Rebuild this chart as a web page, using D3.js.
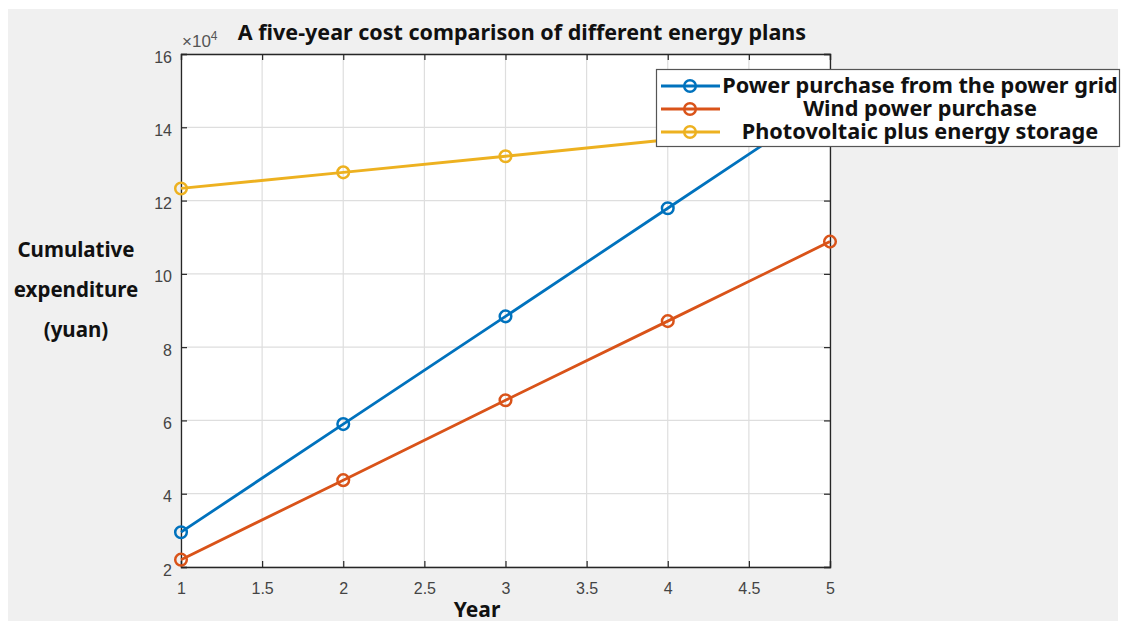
<!DOCTYPE html>
<html><head><meta charset="utf-8">
<script src="https://cdn.jsdelivr.net/npm/d3@7"></script>
<style>
html,body{margin:0;padding:0;background:#fff;}
svg{display:block;}
</style></head>
<body>
<svg id="chart" width="1122" height="623"></svg>
<script>
const years = [1, 2, 3, 4, 5];
const seriesNames = ["Power purchase from the power grid", "Wind power purchase", "Photovoltaic plus energy storage"];
const gridValues = [2.95, 5.9, 8.84, 11.79, 14.74];
const windValues = [2.2, 4.37, 6.55, 8.71, 10.88];
const pvValues = [12.33, 12.77, 13.21, 13.66, 14.1];
const xTicks = [1, 1.5, 2, 2.5, 3, 3.5, 4, 4.5, 5];
const yTicks = [2, 4, 6, 8, 10, 12, 14, 16];
const colors = ["#0072BD", "#D95319", "#EDB120"];
const titleText = "A five-year cost comparison of different energy plans";
const xLabel = "Year";
const yLabelLines = ["Cumulative", "expenditure", "(yuan)"];

const svg = d3.select("#chart");
svg.append("rect").attr("x", 8).attr("y", 9).attr("width", 1110).attr("height", 612).attr("fill", "#f0f0f0");

const L = 181, R = 830, T = 54, B = 567;
const x = d3.scaleLinear().domain([1, 5]).range([L, R]);
const y = d3.scaleLinear().domain([2, 16]).range([B, T]);

svg.append("rect").attr("x", L).attr("y", T).attr("width", R - L).attr("height", B - T).attr("fill", "#fff");

// grid
const g = svg.append("g");
g.selectAll(".vx").data(xTicks).join("line")
  .attr("x1", d => x(d)).attr("x2", d => x(d)).attr("y1", T).attr("y2", B)
  .attr("stroke", "#dedede").attr("stroke-width", 1.2);
g.selectAll(".hy").data(yTicks).join("line")
  .attr("y1", d => y(d)).attr("y2", d => y(d)).attr("x1", L).attr("x2", R)
  .attr("stroke", "#dedede").attr("stroke-width", 1.2);

// axes
const axFont = "'Liberation Sans', Arial, sans-serif";
const xAxis = svg.append("g").attr("transform", `translate(0,${B})`)
  .call(d3.axisBottom(x).tickValues(xTicks).tickSize(-6).tickPadding(16).tickFormat(d3.format("")));
const yAxis = svg.append("g").attr("transform", `translate(${L},0)`)
  .call(d3.axisLeft(y).tickValues(yTicks).tickSize(-6).tickPadding(9).tickFormat(d3.format("")));
const xTop = svg.append("g").attr("transform", `translate(0,${T})`)
  .call(d3.axisTop(x).tickValues(xTicks).tickSize(-6).tickFormat(""));
const yRight = svg.append("g").attr("transform", `translate(${R},0)`)
  .call(d3.axisRight(y).tickValues(yTicks).tickSize(-6).tickFormat(""));
[xAxis, yAxis, xTop, yRight].forEach(a => {
  a.attr("font-size", 16).attr("font-family", axFont);
  a.selectAll("path").attr("stroke", "#262626").attr("stroke-width", 1.3);
  a.selectAll("line").attr("stroke", "#262626").attr("stroke-width", 1.2);
  a.selectAll("text").attr("fill", "#444").attr("font-size", 16).attr("font-family", axFont);
});
yAxis.selectAll(".tick text").attr("dy", "0.5em");

// lines
const allSeries = [gridValues, windValues, pvValues];
const line = d3.line().x((d, i) => x(years[i])).y(d => y(d));
allSeries.forEach((vals, k) => {
  svg.append("path").datum(vals).attr("d", line).attr("fill", "none")
    .attr("stroke", colors[k]).attr("stroke-width", 2.8);
  svg.selectAll(".m" + k).data(vals).join("circle")
    .attr("cx", (d, i) => x(years[i])).attr("cy", d => y(d)).attr("r", 5.8)
    .attr("fill", "none").attr("stroke", colors[k]).attr("stroke-width", 2.5);
});

// title
const boldFont = "'Noto Sans', 'Open Sans', sans-serif";
svg.append("text").attr("x", 522).attr("y", 40).attr("text-anchor", "middle")
  .attr("font-family", boldFont).attr("font-weight", "bold").attr("font-size", 21.5)
  .attr("fill", "#111").text(titleText);
const exp = svg.append("text").attr("x", 182).attr("y", 47).attr("fill", "#555")
  .attr("font-family", axFont).attr("font-size", 17);
exp.append("tspan").text("\u00d710");
exp.append("tspan").attr("dy", -7).attr("font-size", 12).text("4");

// axis labels
svg.append("text").attr("x", 477).attr("y", 617).attr("text-anchor", "middle")
  .attr("font-family", boldFont).attr("font-weight", "bold").attr("font-size", 21)
  .attr("fill", "#111").text(xLabel);
svg.selectAll(".ylab").data(yLabelLines).join("text")
  .attr("x", 76).attr("y", (d, i) => 257 + i * 40).attr("text-anchor", "middle")
  .attr("font-family", boldFont).attr("font-weight", "bold").attr("font-size", 20.5)
  .attr("fill", "#111").text(d => d);

// legend
const lg = svg.append("g");
lg.append("rect").attr("x", 656.5).attr("y", 69.5).attr("width", 463).attr("height", 77)
  .attr("fill", "#fff").attr("stroke", "#555").attr("stroke-width", 1.2);
seriesNames.forEach((name, k) => {
  const cy = 86 + k * 23;
  lg.append("line").attr("x1", 661).attr("x2", 720).attr("y1", cy).attr("y2", cy)
    .attr("stroke", colors[k]).attr("stroke-width", 2.8);
  lg.append("circle").attr("cx", 690).attr("cy", cy).attr("r", 5.8)
    .attr("fill", "none").attr("stroke", colors[k]).attr("stroke-width", 2.5);
  lg.append("text").attr("x", 920).attr("y", cy + 7).attr("text-anchor", "middle")
    .attr("font-family", boldFont).attr("font-weight", "bold").attr("font-size", 21.7)
    .attr("fill", "#111").text(name);
});
</script>
</body></html>
